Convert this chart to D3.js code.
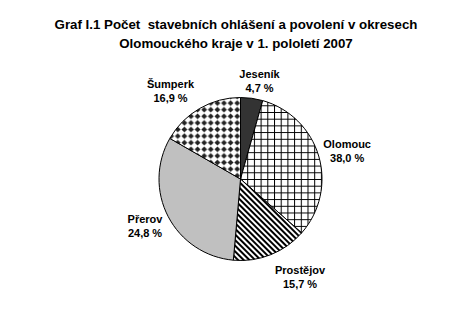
<!DOCTYPE html>
<html>
<head>
<meta charset="utf-8">
<script src="https://cdn.jsdelivr.net/npm/d3@7"></script>
<style>
  html, body { margin: 0; padding: 0; background: #fff; }
  svg text { font-family: "Liberation Sans", Arial, sans-serif; font-weight: bold; fill: #000; white-space: pre; }
</style>
</head>
<body>
<svg id="chart" width="473" height="313"></svg>
<script>
// data
const districts = ["Jeseník", "Olomouc", "Prostějov", "Přerov", "Šumperk"];
// percentages printed in the labels
const shares = [4.7, 38.0, 15.7, 24.8, 16.9];
// slice sizes as actually drawn in the source picture (they do not follow the labels)
const drawnShares = [4.4, 32.1, 14.9, 31.9, 16.7];
const titleLines = ["Graf I.1 Počet  stavebních ohlášení a povolení v okresech",
	"Olomouckého kraje v 1. pololetí 2007"];

// fill per slice (pattern ids)
const fills = ["#333333", "url(#grid)", "url(#stripes)", "#c0c0c0", "url(#diamonds)"];
// label placement: angle shift (deg) from slice middle, distance from centre
const labelShift = [3, 1.2, -9.7, 1.8, -8.2];
const labelDist = [100.5, 110.5, 114, 106, 113];

const width = 473, height = 313;
const cx = 240.5, cy = 179, radius = 81.5;

const svg = d3.select("#chart");
svg.append("rect").attr("width", width).attr("height", height).attr("fill", "#fff");

const defs = svg.append("defs");

// grid (square cross-hatch)
let p = defs.append("pattern").attr("id", "grid")
	.attr("patternUnits", "userSpaceOnUse").attr("width", 6.7).attr("height", 6.7);
p.append("rect").attr("width", 6.7).attr("height", 6.7).attr("fill", "#fff");
p.append("path").attr("d", "M0,0.5H6.7M0.5,0V6.7").attr("stroke", "#000").attr("stroke-width", 1);

// diagonal stripes
p = defs.append("pattern").attr("id", "stripes")
	.attr("patternUnits", "userSpaceOnUse").attr("width", 4).attr("height", 10)
	.attr("patternTransform", "rotate(-45)");
p.append("rect").attr("width", 4).attr("height", 10).attr("fill", "#fff");
p.append("rect").attr("width", 2).attr("height", 10).attr("fill", "#000");

// diamonds
p = defs.append("pattern").attr("id", "diamonds")
	.attr("patternUnits", "userSpaceOnUse").attr("width", 6.6).attr("height", 6.6);
p.append("rect").attr("width", 6.6).attr("height", 6.6).attr("fill", "#fff");
p.append("path").attr("d", "M3.3,0.4L6.2,3.3L3.3,6.2L0.4,3.3Z").attr("fill", "#222");

// title
svg.append("g").selectAll("text")
	.data(titleLines)
	.enter()
	.append("text")
	.attr("x", 236)
	.attr("y", (d, i) => 29 + i * 19)
	.attr("text-anchor", "middle")
	.style("font-size", "13.3px")
	.text(d => d);

// pie
const pie = d3.pie().sort(null).value(d => d)(drawnShares);
const arc = d3.arc().innerRadius(0).outerRadius(radius);

const g = svg.append("g").attr("transform", "translate(" + cx + "," + cy + ")");
g.selectAll("path")
	.data(pie)
	.enter()
	.append("path")
	.attr("d", arc)
	.attr("fill", (d, i) => fills[i])
	.attr("stroke", "#000")
	.attr("stroke-width", 1);

// labels
const fmt = v => v.toFixed(1).replace(".", ",") + " %";
const labels = g.selectAll(".lbl")
	.data(pie)
	.enter()
	.append("text")
	.attr("class", "lbl")
	.attr("text-anchor", "middle")
	.style("font-size", "11px")
	.attr("transform", (d, i) => {
		let a = (d.startAngle + d.endAngle) / 2 + labelShift[i] * Math.PI / 180;
		return "translate(" + (labelDist[i] * Math.sin(a)) + "," + (-labelDist[i] * Math.cos(a)) + ")";
	});
labels.append("tspan").attr("x", 0).attr("y", -2.5).text((d, i) => districts[i]);
labels.append("tspan").attr("x", 0).attr("y", 11.5).text((d, i) => fmt(shares[i]));
</script>
</body>
</html>
